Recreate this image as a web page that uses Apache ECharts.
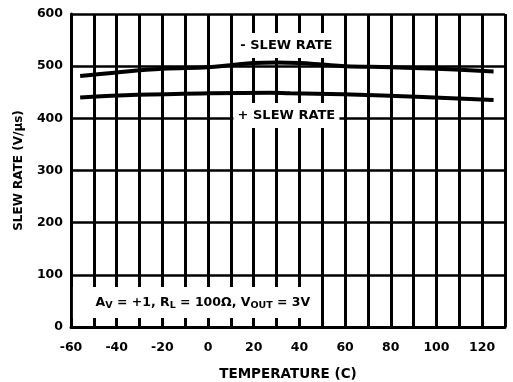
<!DOCTYPE html>
<html>
<head>
<meta charset="utf-8">
<script src="https://cdn.jsdelivr.net/npm/echarts@6/dist/echarts.min.js"></script>
<style>html,body{margin:0;padding:0;background:#fff}#c{width:513px;height:382px}</style>
</head>
<body>
<div id="c"></div>
<script>
// Temperature (C) and slew rate (V/us)
const tempMinus = [-56, -40, -20, 0, 10, 20, 30, 40, 50, 60, 80, 100, 125];
const slewMinus = [481, 488, 495, 498, 502, 506, 507, 506, 503, 500, 498, 495, 490];
const tempPlus = [-56, -31, 1, 27, 36, 59, 94, 125];
const slewPlus = [440, 445, 448, 449, 448, 446, 441, 435];
const xTickLabels = [-60, -40, -20, 0, 20, 40, 60, 80, 100, 120];
const yTickLabels = [0, 100, 200, 300, 400, 500, 600];
const labelMinus = '- SLEW RATE';
const labelPlus = '+ SLEW RATE';
const conditionText = 'A{sub|V} = +1, R{sub|L} = 100Ω, V{sub|OUT} = 3V';

const FONT = 'DejaVu Sans';
const zip = (xs, ys) => xs.map((x, i) => [x, ys[i]]);

const chart = echarts.init(document.getElementById('c'), null, {renderer: 'canvas'});
chart.setOption({
  animation: false,
  backgroundColor: '#fff',
  grid: {left: 71, right: 8, top: 14, bottom: 55, outerBoundsMode: 'none', containLabel: false},
  xAxis: {
    type: 'value', min: -60, max: 130, interval: 10,
    name: 'TEMPERATURE (C)', nameLocation: 'middle', nameGap: 40,
    nameTextStyle: {fontFamily: FONT, fontWeight: 'bold', fontSize: 13.5, color: '#000'},
    axisLine: {show: true, onZero: false, lineStyle: {color: '#000', width: 3}},
    axisTick: {show: false},
    axisLabel: {
      margin: 14, fontFamily: FONT, fontWeight: 'bold', fontSize: 12.5, color: '#000',
      formatter: v => xTickLabels.indexOf(v) >= 0 ? String(v) : ''
    },
    splitLine: {show: true, lineStyle: {color: '#000', width: 3}}
  },
  yAxis: {
    type: 'value', min: 0, max: 600, interval: 100,
    name: 'SLEW RATE (V/µs)', nameLocation: 'middle', nameGap: 46,
    nameTextStyle: {fontFamily: FONT, fontWeight: 'bold', fontSize: 12, color: '#000'},
    axisLine: {show: true, onZero: false, lineStyle: {color: '#000', width: 3}},
    axisTick: {show: false},
    axisLabel: {
      margin: 8, fontFamily: FONT, fontWeight: 'bold', fontSize: 12.5, color: '#000',
      formatter: v => yTickLabels.indexOf(v) >= 0 ? String(v) : ''
    },
    splitLine: {show: true, lineStyle: {color: '#000', width: 2.5}}
  },
  series: [
    {
      type: 'line', name: labelMinus, data: zip(tempMinus, slewMinus),
      smooth: 0.4, symbol: 'none',
      lineStyle: {color: '#000', width: 4},
      markPoint: {
        symbol: 'rect', symbolSize: 1, itemStyle: {color: 'rgba(0,0,0,0)'},
        data: [
          {coord: [34.3, 539.6], value: labelMinus,
           label: {show: true, position: 'inside', formatter: labelMinus,
             fontFamily: FONT, fontWeight: 'bold', fontSize: 13, color: '#000',
             backgroundColor: '#fff', width: 106, height: 25, lineHeight: 25, align: 'center', verticalAlign: 'middle'}},
          {coord: [34.3, 405.4], value: labelPlus,
           label: {show: true, position: 'inside', formatter: labelPlus,
             fontFamily: FONT, fontWeight: 'bold', fontSize: 13, color: '#000',
             backgroundColor: '#fff', width: 106, height: 25, lineHeight: 25, align: 'center', verticalAlign: 'middle'}},
          {coord: [-5.1, 47], value: 'cond',
           label: {show: true, position: 'inside', formatter: conditionText,
             fontFamily: FONT, fontWeight: 'bold', fontSize: 12.5, color: '#000',
             backgroundColor: '#fff', width: 234, height: 31, lineHeight: 31,
             padding: [0, 0, 0, 13], align: 'center', verticalAlign: 'middle',
             rich: {sub: {fontFamily: FONT, fontWeight: 'bold', fontSize: 9.5, color: '#000', padding: [7, 0, 0, 0]}}}}
        ]
      }
    },
    {
      type: 'line', name: labelPlus, data: zip(tempPlus, slewPlus),
      smooth: 0.4, symbol: 'none',
      lineStyle: {color: '#000', width: 4}
    }
  ]
});
</script>
</body>
</html>
